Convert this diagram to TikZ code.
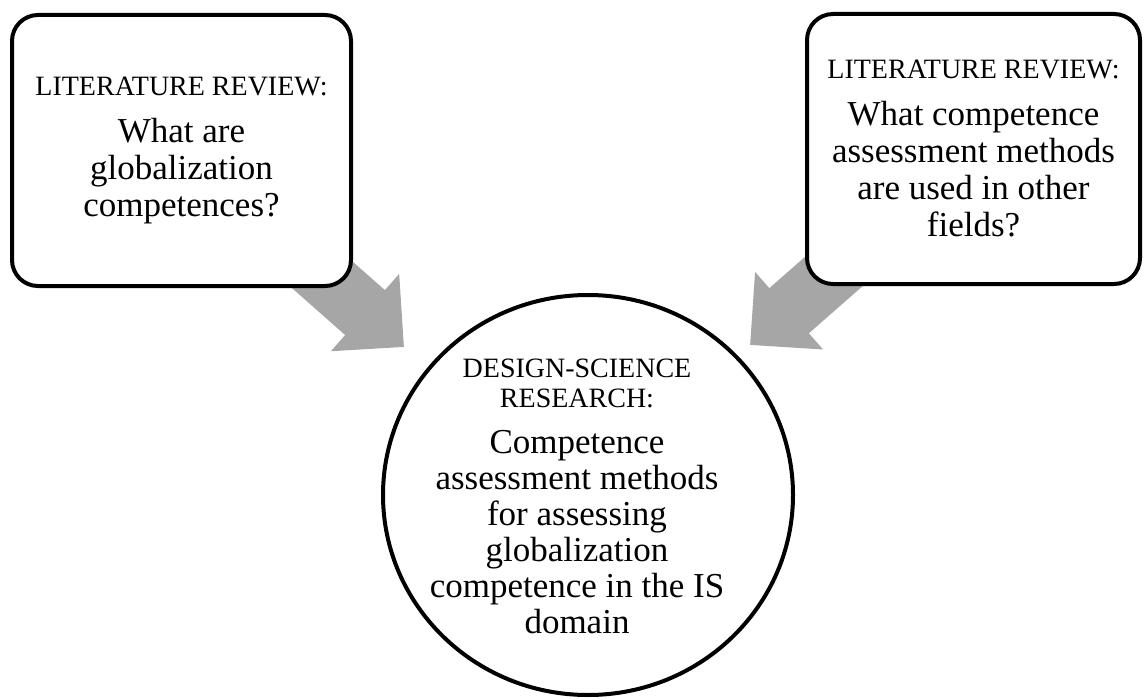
\documentclass[tikz,border=0pt]{standalone}
\usepackage{fontspec}
\setmainfont{Liberation Serif}
\usepackage{tikz}
\usetikzlibrary{arrows.meta, shapes.geometric, backgrounds}

\newcommand{\stagehead}[1]{{\fontsize{14}{15}\selectfont #1}}

\begin{document}
\begin{tikzpicture}[
    x=0.5pt, y=-0.5pt,
    qbox/.style={draw, line width=2pt, rounded corners=13pt, fill=white, align=center, font=\fontsize{17.5}{18.5}\selectfont},
    stage/.style={draw, ellipse, line width=2pt, fill=white, minimum width=205pt, minimum height=200pt},
    bigarrow/.style={line width=30pt, draw=gray!70, -{Triangle[length=26pt, width=50pt]}}
]
\useasboundingbox (0,0) rectangle (1144,700);
\node[qbox, minimum width=169.5pt, minimum height=135.5pt] (lit1) at (181.5,150.5) {\stagehead{LITERATURE REVIEW:}\\[5pt]What are\\globalization\\competences?};
\node[qbox, minimum width=166.5pt, minimum height=135pt] (lit2) at (973.5,149) {\stagehead{LITERATURE REVIEW:}\\[5pt]What competence\\assessment methods\\are used in other\\fields?};
\node[stage] (dsr) at (588,495) {};
\node[align=center, font=\fontsize{17.5}{18}\selectfont] (dsrtext) at (577,496) {\stagehead{DESIGN-SCIENCE}\\[-3pt]\stagehead{RESEARCH:}\\[5pt]Competence\\assessment methods\\for assessing\\globalization\\competence in the IS\\domain};
\coordinate (tip1) at (404,347);
\coordinate (tip2) at (750,345);
\begin{scope}[on background layer]
\draw[bigarrow] (lit1.center) -- (tip1);
\draw[bigarrow] (lit2.center) -- (tip2);
\end{scope}
\end{tikzpicture}
\end{document}
